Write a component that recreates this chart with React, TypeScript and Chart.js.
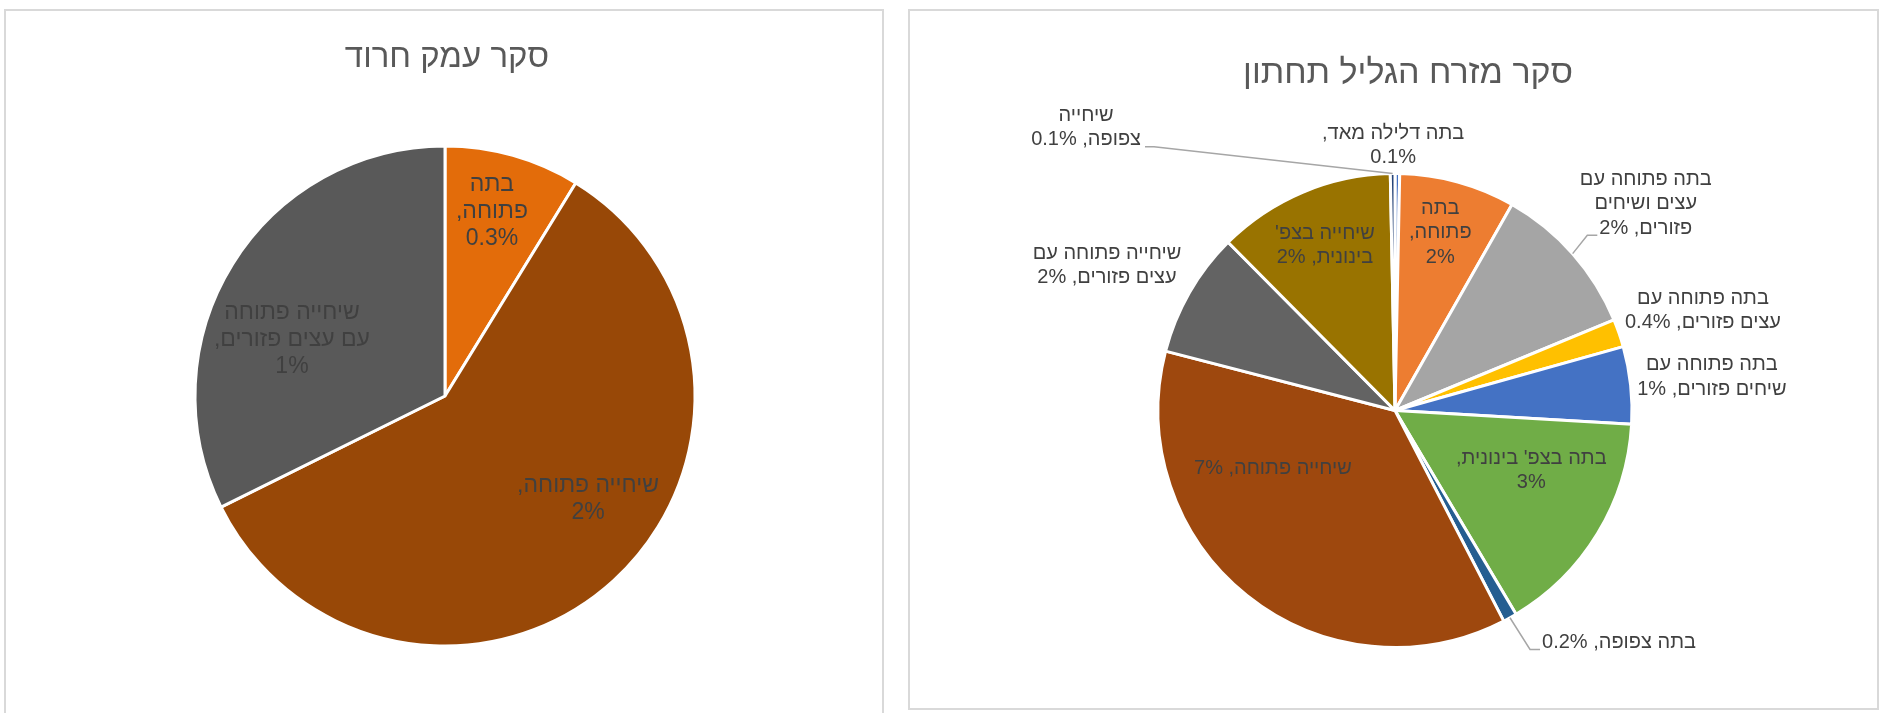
import React, { useEffect, useRef } from "react";
import { Chart, registerables } from "chart.js";

Chart.register(...registerables);

const FONT = '"Liberation Sans", Arial, "DejaVu Sans", sans-serif';

// ---------- Left chart data ----------
const leftTitle = "סקר עמק חרוד";
const leftCategories = ["בתה פתוחה", "שיחייה פתוחה", "שיחייה פתוחה עם עצים פזורים"];
const leftValues = [0.29, 1.95, 1.07];
const leftColors = ["#E36C0A", "#984807", "#595959"];
const leftLabelLines = [
  ["בתה", "פתוחה,", "{v}"],
  ["שיחייה פתוחה,", "{v}"],
  ["שיחייה פתוחה", "עם עצים פזורים,", "{v}"],
];

// ---------- Right chart data ----------
const rightTitle = "סקר מזרח הגליל תחתון";
const rightCategories = [
  "בתה דלילה מאד",
  "בתה פתוחה",
  "בתה פתוחה עם עצים ושיחים פזורים",
  "בתה פתוחה עם עצים פזורים",
  "בתה פתוחה עם שיחים פזורים",
  "בתה בצפ' בינונית",
  "בתה צפופה",
  "שיחייה פתוחה",
  "שיחייה פתוחה עם עצים פזורים",
  "שיחייה בצפ' בינונית",
  "שיחייה צפופה",
];
const rightValues = [0.06, 1.5, 2.0, 0.36, 1.0, 2.95, 0.18, 6.95, 1.62, 2.3, 0.06];
const rightColors = [
  "#4472C4", "#ED7D31", "#A5A5A5", "#FFC000", "#4472C4", "#70AD47",
  "#255E91", "#9E480E", "#636363", "#997300", "#264478",
];
const rightLabelLines = [
  ["בתה דלילה מאד,", "{v}"],
  ["בתה", "פתוחה,", "{v}"],
  ["בתה פתוחה עם", "עצים ושיחים", "פזורים, {v}"],
  ["בתה פתוחה עם", "עצים פזורים, {v}"],
  ["בתה פתוחה עם", "שיחים פזורים, {v}"],
  ["בתה בצפ' בינונית,", "{v}"],
  ["בתה צפופה, {v}"],
  ["שיחייה פתוחה, {v}"],
  ["שיחייה פתוחה עם", "עצים פזורים, {v}"],
  ["שיחייה בצפ'", "בינונית, {v}"],
  ["שיחייה", "צפופה, {v}"],
];

const fmt = (v: number) => (v < 1 ? v.toFixed(1) : String(Math.round(v))) + "%";

type LabelPos = { angle: number; dist: number; leader?: boolean };

const pieLabelPlugin = {
  id: "pieLabels",
  afterDatasetsDraw(chart: any, _args: any, opts: any) {
    const { ctx } = chart;
    const meta = chart.getDatasetMeta(0);
    const ds = chart.data.datasets[0];
    const a0: any = meta.data[0];
    const cx = a0.x;
    const cy = a0.y;
    const r = opts.refRadius;
    ctx.save();
    ctx.direction = "rtl";
    // title
    ctx.font = `${opts.titleSize}px ${FONT}`;
    ctx.fillStyle = "#595959";
    ctx.textAlign = "center";
    ctx.textBaseline = "alphabetic";
    ctx.fillText(opts.title, cx + opts.titleDx, opts.titleBaseline);
    // labels
    ctx.font = `${opts.fontSize}px ${FONT}`;
    ctx.textBaseline = "middle";
    const positions: LabelPos[] = opts.positions;
    positions.forEach((p, i) => {
      const arc: any = meta.data[i];
      const lines: string[] = opts.lines[i].map((s: string) => s.replace("{v}", fmt(ds.data[i])));
      const ang = ((p.angle - 90) * Math.PI) / 180;
      const x = cx + Math.cos(ang) * p.dist * r;
      const y = cy + Math.sin(ang) * p.dist * r;
      const n = lines.length;
      ctx.fillStyle = "#404040";
      lines.forEach((ln, j) => {
        ctx.fillText(ln, x, y + (j - (n - 1) / 2) * opts.lineHeight);
      });
      if (p.leader) {
        const mid = (arc.startAngle + arc.endAngle) / 2;
        const ex = cx + Math.cos(mid) * arc.outerRadius;
        const ey = cy + Math.sin(mid) * arc.outerRadius;
        const last = lines[n - 1];
        const w = ctx.measureText(last).width;
        const ly = y + ((n - 1) / 2) * opts.lineHeight + 7;
        const left = x > cx;
        const sx = left ? x - w / 2 - 2 : x + w / 2 + 4;
        const kx = left ? sx - 10 : sx + 9;
        ctx.strokeStyle = "#A6A6A6";
        ctx.lineWidth = 1.5;
        ctx.beginPath();
        ctx.moveTo(ex, ey);
        ctx.lineTo(kx, ly);
        ctx.lineTo(sx, ly);
        ctx.stroke();
      }
    });
    ctx.restore();
  },
};

function makeConfig(
  labels: string[],
  values: number[],
  colors: string[],
  radius: number,
  padding: any,
  plugin: any
): any {
  return {
    type: "pie",
    data: {
      labels,
      datasets: [
        {
          data: values,
          backgroundColor: colors,
          borderColor: "#FFFFFF",
          borderWidth: 3,
          hoverOffset: 0,
          radius,
        },
      ],
    },
    options: {
      responsive: false,
      animation: false,
      layout: { padding },
      plugins: {
        legend: { display: false },
        title: { display: false },
        tooltip: { enabled: false },
        pieLabels: plugin,
      },
    },
    plugins: [pieLabelPlugin],
  };
}

function PieCanvas({ width, height, config }: { width: number; height: number; config: () => any }) {
  const ref = useRef<HTMLCanvasElement>(null);
  useEffect(() => {
    const chart = new Chart(ref.current as HTMLCanvasElement, config());
    return () => chart.destroy();
  }, []);
  return <canvas ref={ref} width={width} height={height} style={{ display: "block" }} />;
}

export default function App() {
  useEffect(() => {
    document.body.style.margin = "0";
    document.body.style.overflow = "hidden";
  }, []);

  const leftCfg = () =>
    makeConfig(leftCategories, leftValues, leftColors, 250, { top: 100, bottom: 30, left: 2, right: 0 }, {
      title: leftTitle,
      titleSize: 33,
      titleDx: 2,
      titleBaseline: 56,
      fontSize: 23,
      lineHeight: 27,
      refRadius: 248,
      lines: leftLabelLines,
      positions: [
        { angle: 14.3, dist: 0.766 },
        { angle: 125.8, dist: 0.711 },
        { angle: 290.1, dist: 0.657 },
      ],
    });

  const rightCfg = () =>
    makeConfig(rightCategories, rightValues, rightColors, 237, { top: 120, bottom: 18, left: 3, right: 0 }, {
      title: rightTitle,
      titleSize: 34,
      titleDx: 13,
      titleBaseline: 72,
      fontSize: 20,
      lineHeight: 24.5,
      refRadius: 235,
      lines: rightLabelLines,
      positions: [
        { angle: 359.6, dist: 1.128 },
        { angle: 14.3, dist: 0.78 },
        { angle: 50.5, dist: 1.383, leader: true },
        { angle: 72.0, dist: 1.378 },
        { angle: 84.0, dist: 1.356 },
        { angle: 113.8, dist: 0.634 },
        { angle: 136.0, dist: 1.372, leader: true },
        { angle: 244.6, dist: 0.575 },
        { angle: 296.7, dist: 1.372 },
        { angle: 337.0, dist: 0.763 },
        { angle: 312.5, dist: 1.783, leader: true },
      ],
    });

  return (
    <div style={{ position: "relative", width: 1881, height: 713, overflow: "hidden", background: "#FFFFFF" }}>
      <div
        style={{
          position: "absolute",
          left: 4,
          top: 9,
          width: 880,
          height: 720,
          boxSizing: "border-box",
          border: "2px solid #D9D9D9",
          background: "#FFFFFF",
        }}
      >
        <PieCanvas width={876} height={700} config={leftCfg} />
      </div>
      <div
        style={{
          position: "absolute",
          left: 908,
          top: 9,
          width: 971,
          height: 701,
          boxSizing: "border-box",
          border: "2px solid #D9D9D9",
          background: "#FFFFFF",
        }}
      >
        <PieCanvas width={967} height={697} config={rightCfg} />
      </div>
    </div>
  );
}
